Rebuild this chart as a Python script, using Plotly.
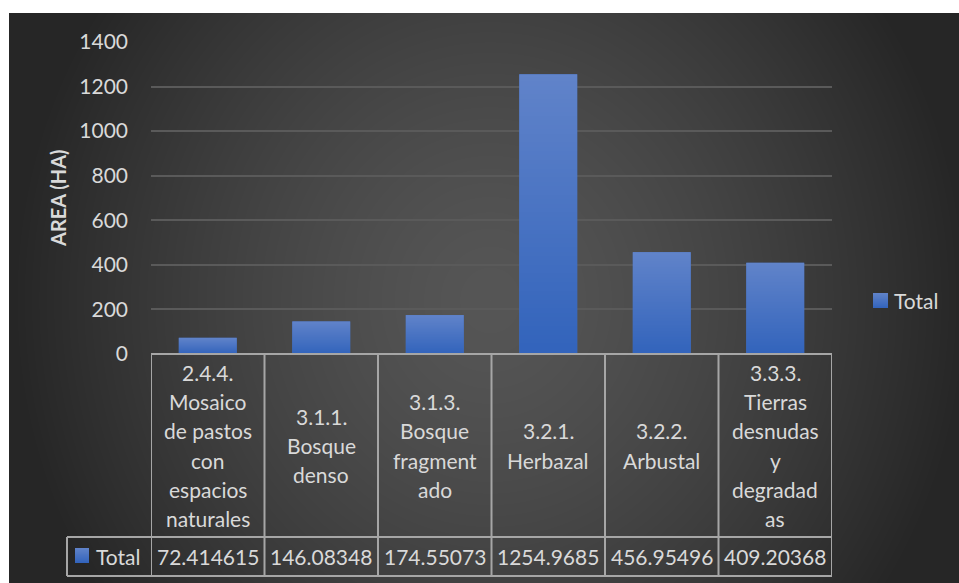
import base64, struct, zlib
import numpy as np
import plotly.graph_objects as go

# ---- data ----
categories = ["2.4.4. Mosaico de pastos con espacios naturales", "3.1.1. Bosque denso",
              "3.1.3. Bosque fragmentado", "3.2.1. Herbazal", "3.2.2. Arbustal",
              "3.3.3. Tierras desnudas y degradadas"]
category_labels = [["2.4.4.", "Mosaico", "de pastos", "con", "espacios", "naturales"],
                   ["3.1.1.", "Bosque", "denso"],
                   ["3.1.3.", "Bosque", "fragment", "ado"],
                   ["3.2.1.", "Herbazal"],
                   ["3.2.2.", "Arbustal"],
                   ["3.3.3.", "Tierras", "desnudas", "y", "degradad", "as"]]
values = [72.414615, 146.08348, 174.55073, 1254.9685, 456.95496, 409.20368]
series_name = "Total"
y_ticks = [0, 200, 400, 600, 800, 1000, 1200, 1400]

# ---- geometry (pixels) ----
W, H = 959, 583
PL, PR, PT, PB = 151, 832, 42, 354
pw, ph = PR - PL, PB - PT

def px(x):
    return (x - PL) / pw

def py(y):
    return (PB - y) / ph

def make_png(img):
    h, w = img.shape[:2]
    raw = b"".join(b"\x00" + img[r].tobytes() for r in range(h))

    def chunk(t, data):
        ch = struct.pack(">I", len(data)) + t + data
        return ch + struct.pack(">I", zlib.crc32(t + data) & 0xffffffff)

    png = b"\x89PNG\r\n\x1a\n" + chunk(b"IHDR", struct.pack(">IIBBBBB", w, h, 8, 2, 0, 0, 0)) \
        + chunk(b"IDAT", zlib.compress(raw, 9)) + chunk(b"IEND", b"")
    return "data:image/png;base64," + base64.b64encode(png).decode()

# radial gradient background
bw, bh = 950, 570
yy, xx = np.mgrid[0:bh, 0:bw]
cx, cy = 490 - 9, 300 - 13
d = np.sqrt(((xx - cx) / 480.0) ** 2 + ((yy - cy) / 520.0) ** 2)
d = np.clip(d, 0, 1)
c = (86 - 48 * d ** 1.4).astype(np.uint8)
bg_src = make_png(np.stack([c, c, c], axis=-1))

# vertical bar gradient (top light -> bottom dark)
top = np.array([0x61, 0x84, 0xca], float)
bot = np.array([0x33, 0x64, 0xbc], float)
t = np.linspace(0, 1, 64)[:, None]
grad = (top * (1 - t) + bot * t).astype(np.uint8)
grad = np.repeat(grad[:, None, :], 4, axis=1)
bar_src = make_png(grad)

FONT = "Lato"
TXT = "#d9d9d9"
BAR = "#4773c5"
LINE = "#a6a6a6"
BARGAP = 0.49

fig = go.Figure()
n = len(categories)
fig.add_trace(go.Bar(x=list(range(n)), y=values, name=series_name,
                     marker=dict(color=BAR, line=dict(width=0)),
                     hovertext=categories, showlegend=False))

images = [dict(source=bg_src, xref="paper", yref="paper", x=px(9), y=py(13),
               sizex=bw / pw, sizey=bh / ph, sizing="stretch", xanchor="left",
               yanchor="top", layer="below")]
for i, v in enumerate(values):
    images.append(dict(source=bar_src, xref="x", yref="y", x=i, y=v,
                       sizex=1 - BARGAP, sizey=v, sizing="stretch", xanchor="center",
                       yanchor="top", layer="above"))
images.append(dict(source=bar_src, xref="paper", yref="paper", x=px(75), y=py(548),
                   sizex=14 / pw, sizey=15 / ph, sizing="stretch", xanchor="left",
                   yanchor="top", layer="above"))
images.append(dict(source=bar_src, xref="paper", yref="paper", x=px(873), y=py(293),
                   sizex=15 / pw, sizey=15 / ph, sizing="stretch", xanchor="left",
                   yanchor="top", layer="above"))

shapes = []
y_top, y_mid, y_bot = py(354), py(537), py(576)
for i in range(n + 1):
    shapes.append(dict(type="line", xref="x", yref="paper", x0=i - 0.5, x1=i - 0.5,
                       y0=y_top, y1=y_bot, line=dict(color=LINE, width=2)))
shapes.append(dict(type="line", xref="paper", yref="paper", x0=0, x1=1, y0=y_top, y1=y_top,
                   line=dict(color=LINE, width=2)))
shapes.append(dict(type="line", xref="paper", yref="paper", x0=px(67), x1=1, y0=y_mid, y1=y_mid,
                   line=dict(color=LINE, width=2)))
shapes.append(dict(type="line", xref="paper", yref="paper", x0=px(67), x1=1, y0=y_bot, y1=y_bot,
                   line=dict(color=LINE, width=2)))
shapes.append(dict(type="line", xref="paper", yref="paper", x0=px(67), x1=px(67), y0=y_mid, y1=y_bot,
                   line=dict(color=LINE, width=2)))

annotations = []
PITCH = 29.2
for i, lines in enumerate(category_labels):
    k = len(lines)
    for j, line in enumerate(lines):
        yc = 445.5 + (j - (k - 1) / 2) * PITCH
        annotations.append(dict(x=i, y=py(yc), xref="x", yref="paper", text=line,
                                showarrow=False, xanchor="center", yanchor="middle",
                                font=dict(family=FONT, size=21, color=TXT)))
    annotations.append(dict(x=i, y=py(556.5), xref="x", yref="paper", text=f"{values[i]:.8g}",
                            showarrow=False, xanchor="center", yanchor="middle",
                            font=dict(family=FONT, size=21, color=TXT)))
annotations.append(dict(x=px(94), y=py(556.5), xref="paper", yref="paper", text=series_name,
                        showarrow=False, xanchor="left", yanchor="middle",
                        font=dict(family=FONT, size=21, color=TXT)))
annotations.append(dict(x=px(892), y=py(300.5), xref="paper", yref="paper", text=series_name,
                        showarrow=False, xanchor="left", yanchor="middle",
                        font=dict(family=FONT, size=21, color=TXT)))
annotations.append(dict(x=px(58), y=py(198), xref="paper", yref="paper", text="<b>AREA (HA)</b>",
                        showarrow=False, xanchor="center", yanchor="middle", textangle=-90,
                        font=dict(family=FONT, size=20, color=TXT)))

fig.update_layout(
    width=W, height=H,
    margin=dict(l=PL, r=W - PR, t=PT, b=H - PB, pad=0),
    paper_bgcolor="white",
    plot_bgcolor="rgba(0,0,0,0)",
    bargap=BARGAP,
    showlegend=False,
    images=images,
    shapes=shapes,
    annotations=annotations,
    xaxis=dict(range=[-0.5, n - 0.5], showticklabels=False, showgrid=False,
               zeroline=False, showline=False, fixedrange=True),
    yaxis=dict(range=[0, 1400], tickvals=y_ticks, showgrid=True, gridcolor="#5a5a5a",
               gridwidth=1.5, zeroline=False, showline=False, ticks="",
               ticklabelstandoff=22,
               tickfont=dict(family=FONT, size=21, color=TXT), fixedrange=True),
)

fig.write_html("out.html")
